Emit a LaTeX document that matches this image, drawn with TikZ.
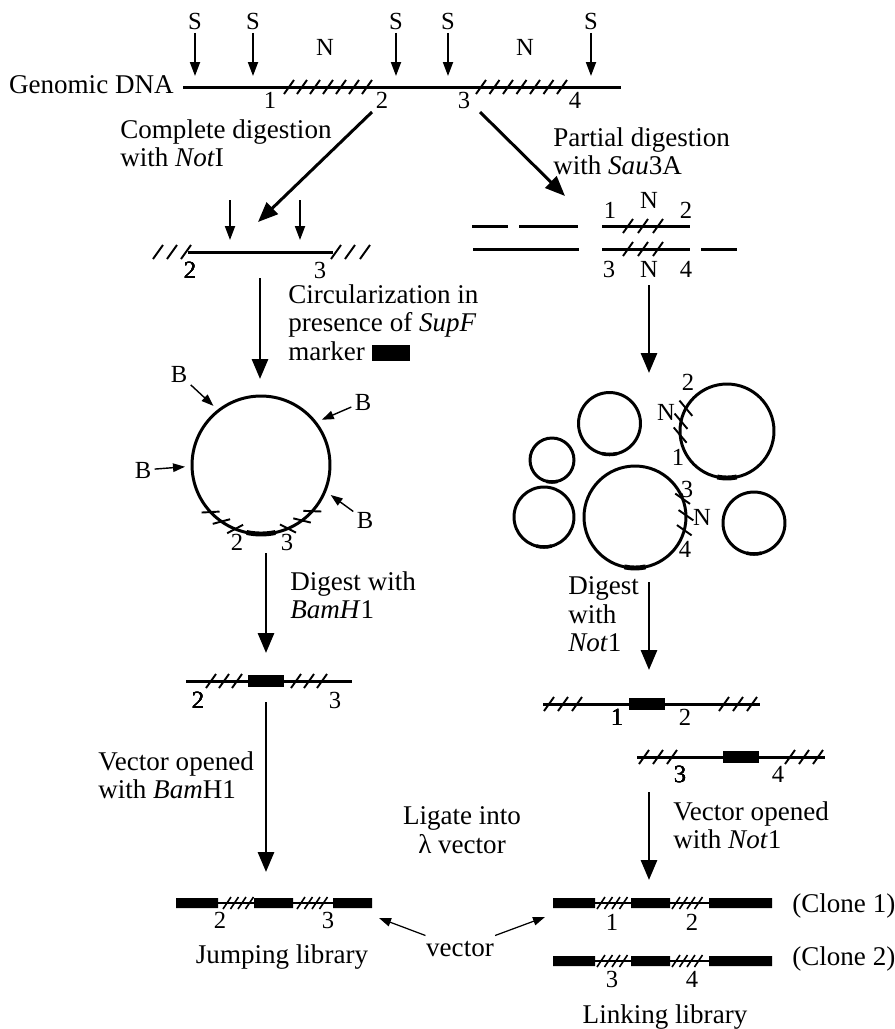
\documentclass[tikz,border=0pt]{standalone}
\usepackage{fontspec}
\setmainfont{Liberation Serif}
\usetikzlibrary{arrows.meta}
\usetikzlibrary{positioning}

\def\thickness{1.7pt}
\tikzstyle{strand}=[line width=\thickness]
\tikzstyle{linker}=[line width=0.9pt]
\tikzstyle{hatch}=[line width=1.1pt]
\tikzstyle{insert}=[line width=2.8pt]
\tikzstyle{smallinsert}=[line width=2pt]
\tikzstyle{plasmid}=[circle, draw=black, line width=\thickness, inner sep=0pt, outer sep=0pt]
\tikzstyle{bigarrow}=[line width=\thickness, -{Triangle[length=0.4cm, width=0.32cm]}]
\tikzstyle{cutarrow}=[line width=1.1pt, -{Triangle[length=0.28cm, width=0.2cm]}]
\tikzstyle{pointer}=[line width=0.8pt, -{Triangle[length=0.24cm, width=0.17cm]}]
\tikzstyle{caption}=[inner sep=0pt, align=left, font=\fontsize{15.4}{16.4}\selectfont]
\tikzstyle{lbl}=[inner sep=0pt, outer sep=2pt, font=\fontsize{14}{16}\selectfont]

\def\hatch#1#2{\draw[hatch] (#1-5,#2+7) -- (#1+5,#2-7);}
\def\tinyhatch#1#2{\draw[hatch, line width=0.9pt] (#1-4,#2+6) -- (#1+4,#2-6);}

\begin{document}
\begin{tikzpicture}[x=0.02cm, y=-0.02cm]
\useasboundingbox (0,0) rectangle (894,1029);

% genomic DNA with Sau3A and NotI sites
\coordinate (dnaL) at (183,87);
\coordinate (dnaR) at (621,87);
\draw[strand] (dnaL) -- (dnaR);
\node[caption, anchor=base east] (genomic) at (174,93) {Genomic DNA};
\foreach \i in {0,...,6} {\hatch{289+13*\i}{87} \hatch{481+13.5*\i}{87}}
\foreach \x [count=\i] in {195,253,396,448,591} {
  \node[lbl, anchor=base] (s\i) at (\x,29) {S};
  \coordinate (cut\i) at (\x,76);
  \draw[cutarrow] (s\i) -- (cut\i);
}
\node[lbl, anchor=base] (n1) at (325,55) {N};
\node[lbl, anchor=base] (n2) at (525,55) {N};
\foreach \x/\t in {270/1,382/2,464/3,575/4}
  \node[lbl, anchor=base] (g\t) at (\x,108) {\t};

% the two digests
\coordinate (notA) at (372,112);
\coordinate (notB) at (258,222);
\draw[bigarrow] (notA) -- (notB);
\coordinate (sauA) at (480,112);
\coordinate (sauB) at (565,196);
\draw[bigarrow] (sauA) -- (sauB);
\node[caption, anchor=north west] (notI) at (120,119) {Complete digestion\\with \textit{Not}I};
\node[caption, anchor=north west] (sau) at (553,127) {Partial digestion\\with \textit{Sau}3A};

% NotI fragment
\coordinate (fragL) at (188,252);
\coordinate (fragR) at (333,252);
\draw[strand] (fragL) -- (fragR);
\foreach \x in {158,172,186,336,350,365} \hatch{\x}{252}
\node[lbl, anchor=base] (f2) at (190,278) {2};
\node[lbl, anchor=base] (f3) at (320,278) {3};
\foreach \x [count=\i] in {230,300} {
  \coordinate (bt\i) at (\x,200);
  \coordinate (bh\i) at (\x,240);
  \draw[cutarrow] (bt\i) -- (bh\i);
}

% Sau3A partial fragments
\draw[strand] (472,226) -- (508,226) (519,226) -- (578,226) (602,226) -- (690,226);
\draw[strand] (473,249) -- (579,249) (602,249) -- (690,249) (701,249) -- (737,249);
\foreach \x in {628,643,658} {\hatch{\x}{226} \hatch{\x}{249}}
\node[lbl, anchor=base] (p1) at (610,218) {1};
\node[lbl, anchor=base] (pn1) at (649,208) {N};
\node[lbl, anchor=base] (p2) at (686,218) {2};
\node[lbl, anchor=base] (p3) at (609,277) {3};
\node[lbl, anchor=base] (pn2) at (649,277) {N};
\node[lbl, anchor=base] (p4) at (686,277) {4};

% circularization
\coordinate (circA) at (260,278);
\coordinate (circB) at (260,379);
\draw[bigarrow] (circA) -- (circB);
\node[caption, anchor=north west] (circ) at (288,284) {Circularization in\\presence of \textit{SupF}\\marker};
\fill (372,345) rectangle (410,361);

\node[plasmid, minimum size=2.76cm] (ring) at (261,465) {};
\draw[insert, shift={(ring.center)}] (78:69) arc (78:102:69);
\foreach \a in {137,125,112}
  \draw[hatch, shift={(ring.center)}] (\a:69) ++(\a+40:9) -- ++(\a+220:18);
\foreach \a in {42,53.5,67}
  \draw[hatch, shift={(ring.center)}] (\a:69) ++(\a+140:9) -- ++(\a-40:18);
\node[lbl, anchor=base] (r2) at (237,550) {2};
\node[lbl, anchor=base] (r3) at (287,550) {3};
\node[lbl, anchor=base] (b1) at (179,382) {B};
\node[lbl, anchor=base] (b2) at (363,410) {B};
\node[lbl, anchor=base] (b3) at (143,478) {B};
\node[lbl, anchor=base] (b4) at (365,528) {B};
\draw[pointer, shorten >=4pt] (b1) -- (ring.128);
\draw[pointer, shorten >=4pt] (b2) -- (ring.38);
\draw[pointer, shorten >=4pt] (b3) -- (ring.181);
\draw[pointer, shorten >=4pt] (b4) -- (ring.-22);

% ligation of the partial fragments
\coordinate (ligA) at (649,285);
\coordinate (ligB) at (649,373);
\draw[bigarrow] (ligA) -- (ligB);
\node[plasmid, minimum size=1.24cm] (pA) at (609.5,423.5) {};
\node[plasmid, minimum size=0.88cm] (pB) at (552,460) {};
\node[plasmid, minimum size=1.2cm] (pC) at (544,517) {};
\node[plasmid, minimum size=2.04cm] (pD) at (635,517) {};
\node[plasmid, minimum size=1.88cm] (pE) at (727,431) {};
\node[plasmid, minimum size=1.24cm] (pF) at (754,523) {};
\draw[smallinsert, shift={(pA.center)}] (76:31) arc (76:104:31);
\draw[smallinsert, shift={(pB.center)}] (75:22) arc (75:105:22);
\draw[smallinsert, shift={(pC.center)}] (75:30) arc (75:105:30);
\draw[smallinsert, shift={(pF.center)}] (76:31) arc (76:104:31);
\draw[insert, shift={(pD.center)}] (78:51) arc (78:102:51);
\draw[insert, shift={(pE.center)}] (78:47) arc (78:102:47);
\foreach \a in {209,192,175}
  \draw[hatch, shift={(pE.center)}] (\a:47) ++(230:10) -- ++(50:20);
\foreach \a in {-21,-2,15}
  \draw[hatch, shift={(pD.center)}] (\a:51) ++(215:9) -- ++(35:18);
\node[lbl, anchor=base] (e2) at (688,390) {2};
\node[lbl, anchor=base] (en) at (666,420) {N};
\node[lbl, anchor=base] (e1) at (678,465) {1};
\node[lbl, anchor=base] (d3) at (687,497) {3};
\node[lbl, anchor=base] (dn) at (702,525) {N};
\node[lbl, anchor=base] (d4) at (685,557) {4};

% BamH1 digest
\coordinate (bamA) at (266,553);
\coordinate (bamB) at (266,653);
\draw[bigarrow] (bamA) -- (bamB);
\node[caption, anchor=north west] (bam) at (290,571) {Digest with\\\textit{BamH}1};
\draw[strand] (186,681) -- (352,681);
\fill (248,675) rectangle (284,687);
\foreach \x in {211,224,237,296,309,322} \hatch{\x}{681}
\node[lbl, anchor=base] (j2) at (198,708) {2};
\node[lbl, anchor=base] (j3) at (335,708) {3};

% Not1 digest
\coordinate (notC) at (649,582);
\coordinate (notD) at (649,670);
\draw[bigarrow] (notC) -- (notD);
\node[caption, anchor=north west] (not) at (568,576) {Digest\\with\\\textit{Not}1};
\draw[strand] (543,704) -- (760,704);
\fill (629,698) rectangle (665,710);
\foreach \x in {549,563,577,724,738,752} \hatch{\x}{704}
\node[lbl, anchor=base] (k1) at (617,725) {1};
\node[lbl, anchor=base] (k2) at (685,725) {2};
\draw[strand] (637,757) -- (825,757);
\fill (723,751) rectangle (759,763);
\foreach \x in {644,658,672,790,804,818} \hatch{\x}{757}
\node[lbl, anchor=base] (k3) at (680,782) {3};
\node[lbl, anchor=base] (k4) at (778,782) {4};

% into the vector
\coordinate (vecA) at (266,702);
\coordinate (vecB) at (266,872);
\draw[bigarrow] (vecA) -- (vecB);
\node[caption, anchor=north west] (openL) at (98,751) {Vector opened\\with \textit{Bam}H1};
\coordinate (vecC) at (649,792);
\coordinate (vecD) at (649,880);
\draw[bigarrow] (vecC) -- (vecD);
\node[caption, anchor=north west] (openR) at (673,801) {Vector opened\\with \textit{Not}1};
\node[caption, align=center, anchor=north] (ligate) at (462,806) {Ligate into\\λ vector};

% jumping library
\fill (176,898) rectangle (218,908) (254,898) rectangle (293,908) (333,898) rectangle (372,908);
\draw[linker] (218,903) -- (254,903) (293,903) -- (333,903);
\foreach \x in {227,234.5,242,249.5} {\tinyhatch{\x}{903} \tinyhatch{\x+74}{903}}
\node[lbl, anchor=base] (l2) at (220,928) {2};
\node[lbl, anchor=base] (l3) at (328,928) {3};
\node[caption, anchor=base] (jumping) at (282,963) {Jumping library};

% linking library
\foreach \y in {903,961} {
  \fill (553,\y-5) rectangle (595,\y+5) (631,\y-5) rectangle (670,\y+5) (709,\y-5) rectangle (772,\y+5);
  \draw[linker] (595,\y) -- (631,\y) (670,\y) -- (709,\y);
  \foreach \x in {601,608.5,616,623.5} {\tinyhatch{\x}{\y} \tinyhatch{\x+75}{\y}}
}
\node[lbl, anchor=base] (c1) at (612,930) {1};
\node[lbl, anchor=base] (c2) at (692,930) {2};
\node[lbl, anchor=base] (c3) at (612,987) {3};
\node[lbl, anchor=base] (c4) at (692,987) {4};
\node[caption, anchor=base west] (clone1) at (792,912) {(Clone 1)};
\node[caption, anchor=base west] (clone2) at (792,965) {(Clone 2)};
\node[caption, anchor=base] (linking) at (665,1023) {Linking library};

% vector arms
\node[caption, anchor=base, outer sep=3pt] (vector) at (460,956) {vector};
\coordinate (armL) at (379,918);
\coordinate (armR) at (545,917);
\draw[pointer, line width=0.7pt] (vector) -- (armL);
\draw[pointer, line width=0.7pt] (vector) -- (armR);
\end{tikzpicture}
\end{document}
